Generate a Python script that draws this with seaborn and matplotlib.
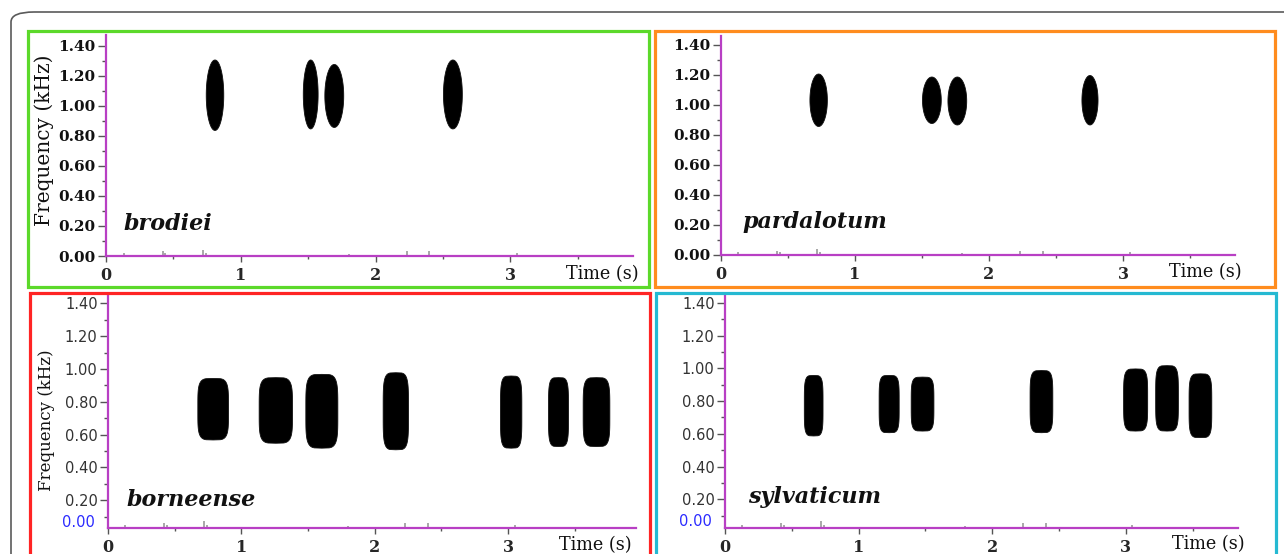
import numpy as np
import matplotlib
matplotlib.use("Agg")
import matplotlib.pyplot as plt
import seaborn as sns
from matplotlib.patches import Rectangle, FancyBboxPatch

# ---------------- data ----------------
species = ["brodiei", "pardalotum", "borneense", "sylvaticum"]

# note start / end time (s) and low / high frequency (kHz)
brodiei_start = [0.74, 1.46, 1.62, 2.50]
brodiei_end = [0.87, 1.57, 1.76, 2.64]
brodiei_low = [0.84, 0.85, 0.86, 0.85]
brodiei_high = [1.31, 1.31, 1.28, 1.31]

pardalotum_start = [0.66, 1.50, 1.69, 2.69]
pardalotum_end = [0.79, 1.64, 1.83, 2.81]
pardalotum_low = [0.86, 0.88, 0.87, 0.87]
pardalotum_high = [1.21, 1.19, 1.19, 1.20]

borneense_start = [0.67, 1.13, 1.48, 2.06, 2.94, 3.30, 3.56]
borneense_end = [0.90, 1.38, 1.72, 2.25, 3.10, 3.45, 3.76]
borneense_low = [0.57, 0.55, 0.52, 0.51, 0.52, 0.53, 0.53]
borneense_high = [0.945, 0.95, 0.97, 0.98, 0.96, 0.95, 0.95]

sylvaticum_start = [0.59, 1.15, 1.39, 2.28, 2.98, 3.22, 3.47]
sylvaticum_end = [0.73, 1.30, 1.56, 2.45, 3.16, 3.39, 3.64]
sylvaticum_low = [0.59, 0.61, 0.62, 0.61, 0.62, 0.62, 0.58]
sylvaticum_high = [0.96, 0.96, 0.95, 0.99, 1.00, 1.02, 0.97]

# faint background noise near the baseline (s, kHz)
noise_time = [0.13, 0.42, 0.44, 0.72, 0.74, 1.80, 2.23, 2.40, 3.05]
noise_height = [0.02, 0.03, 0.02, 0.04, 0.02, 0.015, 0.03, 0.03, 0.02]

y_major = [0.00, 0.20, 0.40, 0.60, 0.80, 1.00, 1.20, 1.40]
x_major = [0, 1, 2, 3]

notes = {
    "brodiei": (brodiei_start, brodiei_end, brodiei_low, brodiei_high),
    "pardalotum": (pardalotum_start, pardalotum_end, pardalotum_low, pardalotum_high),
    "borneense": (borneense_start, borneense_end, borneense_low, borneense_high),
    "sylvaticum": (sylvaticum_start, sylvaticum_end, sylvaticum_low, sylvaticum_high),
}

# ---------------- figure ----------------
sns.set_theme(style="white")
plt.rcParams["font.family"] = ["DejaVu Serif", "DejaVu Sans"]

W, H = 1284, 554
fig = plt.figure(figsize=(W / 100, H / 100), dpi=100)
fig.patch.set_facecolor("white")


def fx(px):
    return px / W


def fy(py):
    return 1 - py / H


# outer rounded frame (cut off at right and bottom)
fig.patches.append(FancyBboxPatch((fx(11), fy(580)), fx(1320) - fx(11), fy(12) - fy(580),
                                  boxstyle="round,pad=0,rounding_size=0.018",
                                  transform=fig.transFigure, fill=False,
                                  ec="#5a5a5a", lw=1.2, zorder=0))

# coloured panel frames: (x0, y0, x1, y1) pixels
frames = [
    (28, 31, 649, 287, "#5cd92a"),
    (655, 31, 1275, 287, "#ff8c1e"),
    (30, 293, 650, 580, "#ff2424"),
    (656, 293, 1276, 580, "#25b9d2"),
]
for x0, y0, x1, y1, c in frames:
    fig.patches.append(Rectangle((fx(x0), fy(y1)), fx(x1) - fx(x0), fy(y0) - fy(y1),
                                 transform=fig.transFigure, fill=False, ec=c, lw=2.3,
                                 zorder=1))

# axes layout: left, right, top, bottom (pixels), xmax, ymin, ymax
layout = {
    "brodiei": (106, 633, 35, 256, 3.91, 0.0, 1.473, "top"),
    "pardalotum": (721, 1235, 36, 255, 3.836, 0.0, 1.46, "top"),
    "borneense": (108, 636, 295, 528, 3.96, 0.03, 1.451, "bottom"),
    "sylvaticum": (725, 1238, 296, 528, 3.84, 0.024, 1.443, "bottom"),
}
label_pos = {
    "brodiei": (0.13, 0.21),
    "pardalotum": (0.16, 0.22),
    "borneense": (0.14, 0.20),
    "sylvaticum": (0.17, 0.215),
}
shape_power = {"top": 2.0, "bottom": 4.5}
spine_col = "#b83fc4"

for sp in species:
    l, r, t, b, xmax, ymin, ymax, row = layout[sp]
    ax = fig.add_axes([fx(l), fy(b), fx(r) - fx(l), fy(t) - fy(b)])
    ax.set_facecolor("white")
    ax.set_xlim(0, xmax)
    ax.set_ylim(ymin, ymax)

    # notes
    p = shape_power[row]
    for t0, t1, f0, f1 in zip(*notes[sp]):
        fc, hh = (f0 + f1) / 2, (f1 - f0) / 2
        tc, hw = (t0 + t1) / 2, (t1 - t0) / 2
        f = np.linspace(f0, f1, 300)
        u = np.clip(np.abs((f - fc) / hh), 0, 1)
        w = hw * (1 - u ** p) ** (1 / p)
        ax.fill_betweenx(f, tc - w, tc + w, color="black", lw=0.6, ec="#111111")

    # baseline noise
    ax.vlines(noise_time, ymin, [ymin + h for h in noise_height], color="#9a9a9a", lw=1.2)

    sns.despine(ax=ax)
    for s in ("left", "bottom"):
        ax.spines[s].set_color(spine_col)
        ax.spines[s].set_linewidth(1.6)

    ax.set_xticks(x_major)
    ax.set_xticks(np.arange(0.5, xmax, 1.0), minor=True)
    ax.set_xticklabels([str(v) for v in x_major], fontsize=11.5, fontweight="bold",
                       family="DejaVu Serif")
    ax.xaxis.set_ticks_position("bottom")
    ax.tick_params(axis="x", which="major", direction="out", length=4, width=1,
                   color="#555555", pad=4)
    ax.tick_params(axis="x", which="minor", direction="out", length=2, width=1,
                   color="#555555")

    if row == "top":
        yt = y_major
    else:
        yt = y_major[1:]
    ax.set_yticks(yt)
    ax.set_yticks(np.arange(0.1, ymax, 0.2), minor=True)
    ax.yaxis.set_ticks_position("left")
    ax.tick_params(axis="y", which="major", direction="out", length=6, width=1,
                   color="#555555", pad=1.5)
    ax.tick_params(axis="y", which="minor", direction="out", length=3, width=1,
                   color="#555555")
    if row == "top":
        ax.set_yticklabels([f"{v:.2f}" for v in yt], fontsize=11, fontweight="bold",
                           family="DejaVu Serif", color="#111111")
    else:
        ax.set_yticklabels([f"{v:.2f}" for v in yt], fontsize=10.5,
                           family="DejaVu Sans", color="#333333")
        ax.annotate("0.00", xy=(0, 0.065), xycoords=("axes fraction", "data"),
                    xytext=(-9.5, 0), textcoords="offset points", ha="right",
                    va="center", fontsize=10.5, family="DejaVu Sans", color="#2b2bff")

    lx, ly = label_pos[sp]
    ax.text(lx, ly, sp, fontsize=16, fontweight="bold", fontstyle="italic",
            family="DejaVu Serif", va="center", ha="left", color="#111111")

# axis titles
fig.text(fx(44), fy(140), "Frequency (kHz)", rotation=90, ha="center", va="center",
         fontsize=14.5, family="DejaVu Serif", color="#111111")
fig.text(fx(47), fy(420), "Frequency (kHz)", rotation=90, ha="center", va="center",
         fontsize=12, family="DejaVu Serif", color="#111111")
for x, y in [(639, 274), (1242, 272), (632, 545), (1245, 544)]:
    fig.text(fx(x), fy(y), "Time (s)", ha="right", va="center", fontsize=12.7,
             family="DejaVu Serif", color="#111111")

fig.savefig("out.png", dpi=100, facecolor="white")
